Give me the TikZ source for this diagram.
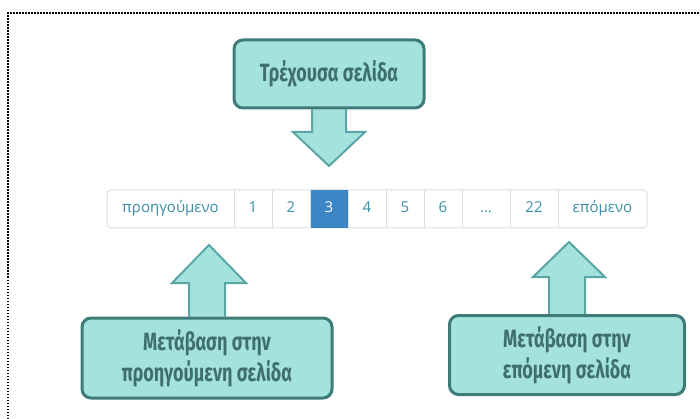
\documentclass[tikz,border=0pt]{standalone}
\usepackage{fontspec}
\setmainfont{Open Sans}
\newfontfamily\calloutfont[FakeStretch=0.72]{Fira Sans}
\usetikzlibrary{positioning,calc,fit,backgrounds}
\definecolor{boxfill}{HTML}{A4E2DD}
\definecolor{boxedge}{HTML}{3F7B79}
\definecolor{boxtext}{HTML}{3E6F6D}
\definecolor{arrowedge}{HTML}{5AA6A4}
\definecolor{linktext}{HTML}{3B8EA6}
\definecolor{activefill}{HTML}{3D86C6}
\definecolor{cellline}{HTML}{DDDDDD}
\begin{document}
\begin{tikzpicture}[x=1pt,y=-1pt,
  callout/.style={draw=boxedge, fill=boxfill, line width=3pt, rounded corners=9pt,
    text=boxtext, font=\calloutfont\bfseries\fontsize{25}{31}\selectfont, align=center},
  blockarrow/.style={draw=arrowedge, fill=boxfill, line width=2pt, line join=miter},
  cell/.style={minimum height=38pt, inner sep=0pt, outer sep=0pt, text=linktext,
    text height=11pt, text depth=3.5pt, font=\fontsize{15}{17}\selectfont},
  active/.style={cell, fill=activefill, text=white}]
  \useasboundingbox (0,0) rectangle (700,419);
  \draw[line width=1.5pt, dash pattern=on 1.5pt off 1.5pt] (8,440) |- (720,13);
  % pagination bar
  \node[cell, minimum width=127pt, anchor=west] (prevlink) at (107,209) {προηγούμενο};
  \node[cell, minimum width=38pt, right=0pt of prevlink] (p1) {1};
  \node[cell, minimum width=38pt, right=0pt of p1] (p2) {2};
  \node[active, minimum width=38pt, right=0pt of p2] (p3) {3};
  \node[cell, minimum width=38pt, right=0pt of p3] (p4) {4};
  \node[cell, minimum width=38pt, right=0pt of p4] (p5) {5};
  \node[cell, minimum width=38pt, right=0pt of p5] (p6) {6};
  \node[cell, minimum width=48pt, right=0pt of p6] (dots) {…};
  \node[cell, minimum width=48pt, right=0pt of dots] (p22) {22};
  \node[cell, minimum width=89pt, right=0pt of p22] (nextlink) {επόμενο};
  \begin{scope}[on background layer]
    \node[draw=cellline, line width=1pt, rounded corners=4pt, fill=white, inner sep=0pt,
      fit=(prevlink)(nextlink)] (bar) {};
  \end{scope}
  \foreach \c in {prevlink,p1,p2,p3,p4,p5,p6,dots,p22}
    \draw[cellline, line width=1pt] (\c.north east) -- (\c.south east);
  % callouts
  \node[callout, minimum width=190pt, minimum height=68pt] (current) at (329,74) {Τρέχουσα σελίδα};
  \node[callout, minimum width=250pt, minimum height=80pt] (prevbox) at (207,358)
    {Μετάβαση στην\\προηγούμενη σελίδα};
  \node[callout, minimum width=235pt, minimum height=79pt] (nextbox) at (567,355)
    {Μετάβαση στην\\επόμενη σελίδα};
  \coordinate (curtip) at (329,166);
  \coordinate (prevtip) at (209,245);
  \coordinate (nexttip) at (569,242);
  \begin{scope}[on background layer]
    \draw[blockarrow] ($(current.south)+(-17,0)$) |- ($(curtip)+(-36,-34)$) -- (curtip)
      -- ($(curtip)+(36,-34)$) -| ($(current.south)+(17,0)$);
    \draw[blockarrow] ($(prevbox.north)+(-18,0)$) |- ($(prevtip)+(-37,38)$) -- (prevtip)
      -- ($(prevtip)+(37,38)$) -| ($(prevbox.north)+(18,0)$);
    \draw[blockarrow] ($(nextbox.north)+(-18,0)$) |- ($(nexttip)+(-36,35)$) -- (nexttip)
      -- ($(nexttip)+(36,35)$) -| ($(nextbox.north)+(18,0)$);
  \end{scope}
\end{tikzpicture}
\end{document}
